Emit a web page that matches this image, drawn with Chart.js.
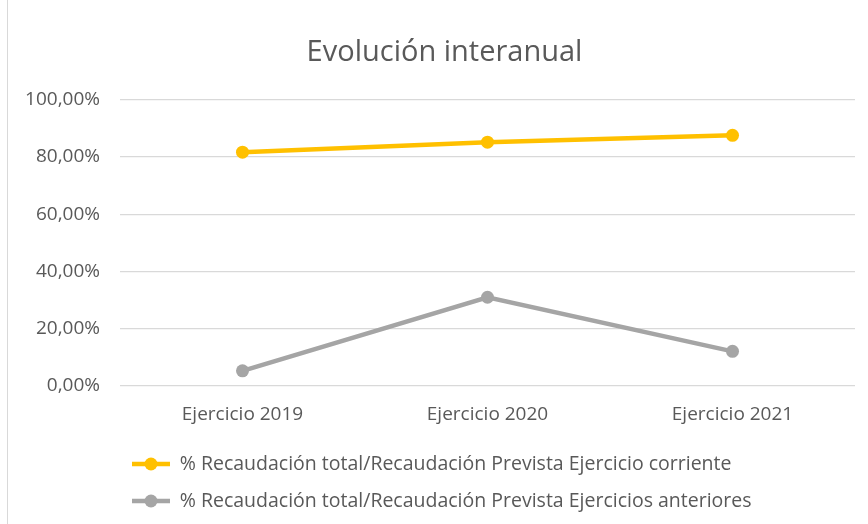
<!DOCTYPE html>
<html>
<head>
<meta charset="utf-8">
<script src="https://cdn.jsdelivr.net/npm/chart.js@4/dist/chart.umd.min.js"></script>
<style>
  html, body { margin: 0; padding: 0; background: #fff; }
  #wrap { position: relative; width: 868px; height: 524px; }
</style>
</head>
<body>
<div id="wrap"><canvas id="chart-evolucion"></canvas></div>
<script>
const categories = ['Ejercicio 2019', 'Ejercicio 2020', 'Ejercicio 2021'];
const corrienteValues = [81.7, 85.2, 87.6];
const anterioresValues = [5.3, 31.0, 12.1];
const seriesNames = [
    '% Recaudación total/Recaudación Prevista Ejercicio corriente',
    '% Recaudación total/Recaudación Prevista Ejercicios anteriores'
];
const yTicks = [0, 20, 40, 60, 80, 100];

const textColor = '#595959';
const gridColor = '#d9d9d9';
const fontFamily = '"Open Sans", "Liberation Sans", sans-serif';

// frame line on the left + legend line/dot samples
const legendPlugin = {
    id: 'excelLegend',
    afterUpdate(chart) {
        const legend = chart.legend;
        const delta = 121 - legend.left;
        legend.left += delta;
        legend.right += delta;
        legend.legendHitBoxes.forEach(h => { h.left += delta; });
        // title sits a bit right of the canvas centre in the original
        if (chart.titleBlock) {
            chart.titleBlock.left += 17;
            chart.titleBlock.right += 17;
        }
    },
    beforeDraw(chart) {
        const ctx = chart.ctx;
        ctx.save();
        ctx.strokeStyle = gridColor;
        ctx.lineWidth = 1;
        ctx.beginPath();
        ctx.moveTo(7.5, 0);
        ctx.lineTo(7.5, chart.height);
        ctx.stroke();
        ctx.restore();
    },
    afterDraw(chart) {
        const ctx = chart.ctx;
        const legend = chart.legend;
        const boxW = legend.options.labels.boxWidth;
        legend.legendHitBoxes.forEach((h, i) => {
            const ds = chart.data.datasets[i];
            const cy = h.top + h.height / 2;
            ctx.save();
            ctx.strokeStyle = ds.borderColor;
            ctx.lineWidth = ds.borderWidth;
            ctx.beginPath();
            ctx.moveTo(h.left, cy);
            ctx.lineTo(h.left + boxW, cy);
            ctx.stroke();
            ctx.fillStyle = ds.pointBackgroundColor;
            ctx.beginPath();
            ctx.arc(h.left + boxW / 2, cy, ds.pointRadius, 0, Math.PI * 2);
            ctx.fill();
            ctx.restore();
        });
    }
};

const ctx = document.getElementById('chart-evolucion').getContext('2d');
new Chart(ctx, {
    type: 'line',
    data: {
        labels: categories,
        datasets: [
            {
                label: seriesNames[0],
                data: corrienteValues,
                borderColor: '#FFC000',
                backgroundColor: '#FFC000',
                pointBackgroundColor: '#FFC000',
                pointBorderWidth: 0,
                borderWidth: 4.5,
                pointRadius: 6.5,
                tension: 0
            },
            {
                label: seriesNames[1],
                data: anterioresValues,
                borderColor: '#A5A5A5',
                backgroundColor: '#A5A5A5',
                pointBackgroundColor: '#A5A5A5',
                pointBorderWidth: 0,
                borderWidth: 4.5,
                pointRadius: 6.5,
                tension: 0
            }
        ]
    },
    options: {
        responsive: true,
        maintainAspectRatio: false,
        animation: false,
        layout: { padding: { top: 30, right: 13, bottom: 0, left: 0 } },
        plugins: {
            title: {
                display: true,
                text: 'Evolución interanual',
                color: textColor,
                font: { family: fontFamily, size: 29, weight: '400' },
                padding: { top: 5, bottom: 30 }
            },
            legend: {
                position: 'bottom',
                align: 'start',
                labels: {
                    color: textColor,
                    font: { family: fontFamily, size: 19.5 },
                    boxWidth: 38,
                    boxHeight: 26,
                    padding: 11,
                    generateLabels(chart) {
                        return chart.data.datasets.map((ds, i) => ({
                            text: ds.label,
                            fillStyle: 'rgba(0,0,0,0)',
                            strokeStyle: 'rgba(0,0,0,0)',
                            lineWidth: 0,
                            fontColor: textColor,
                            datasetIndex: i
                        }));
                    }
                }
            },
            tooltip: { enabled: false }
        },
        scales: {
            x: {
                offset: true,
                grid: { display: false },
                border: { display: false },
                afterFit(scale) { scale.height = 54; },
                ticks: {
                    color: textColor,
                    font: { family: fontFamily, size: 19 },
                    padding: 9,
                    maxRotation: 0
                }
            },
            y: {
                min: yTicks[0],
                max: yTicks[yTicks.length - 1],
                afterBuildTicks(scale) {
                    scale.ticks = yTicks.map(v => ({ value: v }));
                },
                afterFit(scale) { scale.width = 120; },
                grid: { color: gridColor, lineWidth: 1.3, drawTicks: false },
                border: { display: false },
                ticks: {
                    color: textColor,
                    font: { family: fontFamily, size: 19 },
                    padding: 20,
                    callback: v => v.toFixed(2).replace('.', ',') + '%'
                }
            }
        }
    },
    plugins: [legendPlugin]
});
</script>
</body>
</html>
